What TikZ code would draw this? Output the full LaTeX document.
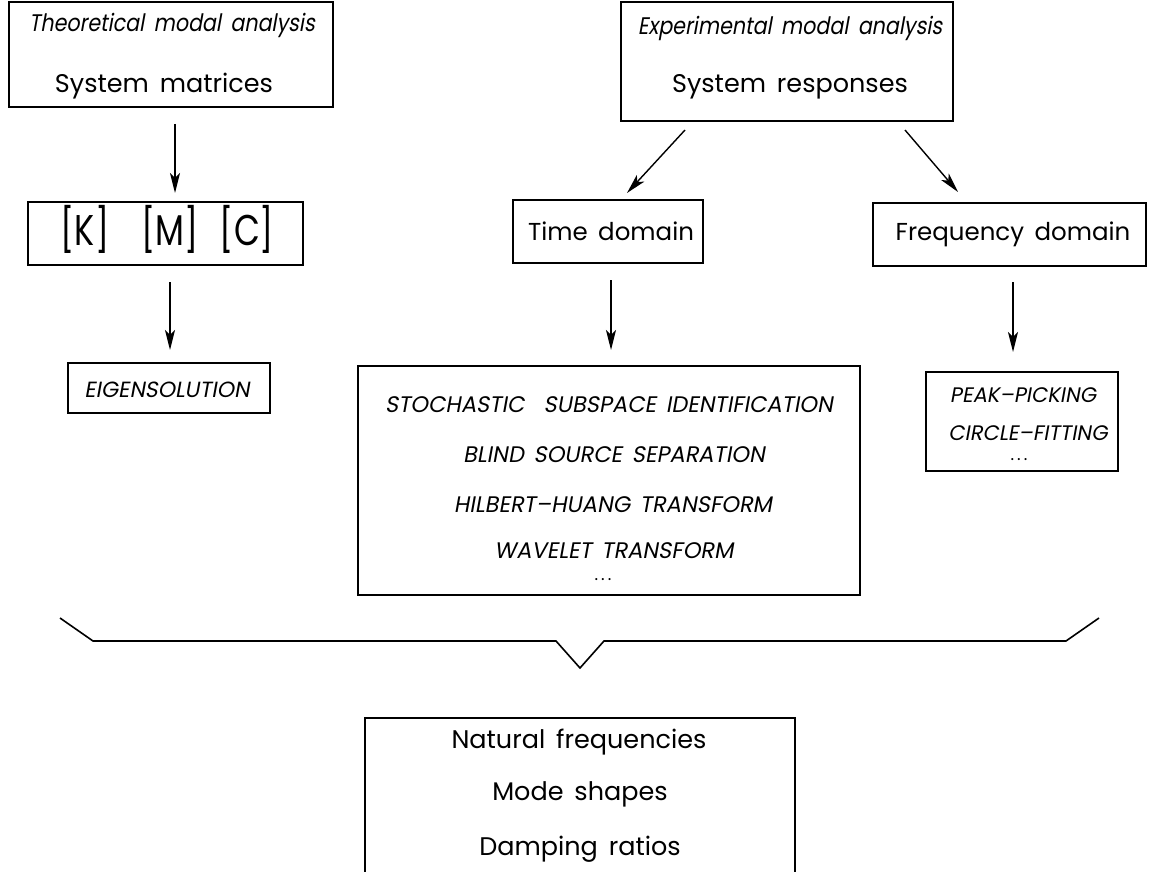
\documentclass[tikz,border=0pt]{standalone}
\usepackage{fontspec}
\setmainfont{Poppins}[WordSpace=1.6]
\newfontfamily\slfont{Poppins}[FakeSlant=0.18,WordSpace=1.6,Ligatures=TeX]
\newfontfamily\slnfont{Poppins}[FakeSlant=0.18,FakeStretch=0.86,WordSpace=1.7]
\newfontfamily\kmcfont{Poppins}[FakeStretch=0.78]
\usetikzlibrary{arrows.meta}
\newcommand{\fs}[1]{\fontsize{#1}{#1}\selectfont}
\newcommand{\dotsx}{.\hspace{3pt}.\hspace{3pt}.}
\tikzset{
  frame/.style={draw, line width=1.6pt, inner sep=0pt, anchor=center},
  lbl/.style={anchor=base, inner sep=0pt},
  arr/.style={line width=1.4pt, -{Stealth[length=20pt,width=10pt,inset=5pt]}},
  brace/.style={line width=1.6pt, line join=miter}
}
\begin{document}
\begin{tikzpicture}[x=1pt,y=-1pt]
\useasboundingbox (0,0) rectangle (1149,872);
\clip (0,0) rectangle (1149,872);
% boxes
\node[frame, minimum width=324, minimum height=105] (theo) at (171,54.5) {};
\node[frame, minimum width=332, minimum height=119] (exp) at (787,61.5) {};
\node[frame, minimum width=275, minimum height=63] (kmc) at (165.5,233.5) {};
\node[frame, minimum width=202, minimum height=50] (eig) at (169,388) {};
\node[frame, minimum width=190, minimum height=63] (time) at (608,231.5) {};
\node[frame, minimum width=273, minimum height=63] (freq) at (1009.5,234.5) {};
\node[frame, minimum width=502, minimum height=229] (meth) at (609,480.5) {};
\node[frame, minimum width=192, minimum height=99] (peak) at (1022,421.5) {};
\node[frame, minimum width=430, minimum height=200] (res) at (580,818) {};
% texts
\node[lbl, font=\slnfont\fs{24}] (theo1) at (172,32) {Theoretical modal analysis};
\node[lbl, font=\fs{25.5}] (theo2) at (164,93) {System matrices};
\node[lbl, font=\slnfont\fs{24}] (exp1) at (790,35) {Experimental modal analysis};
\node[lbl, font=\fs{25.5}] (exp2) at (790,93) {System responses};
\node[lbl, font=\kmcfont\fs{43}] (kmcK) at (85,245) {[K]};
\node[lbl, font=\kmcfont\fs{43}] (kmcM) at (170,245) {[M]};
\node[lbl, font=\kmcfont\fs{43}] (kmcC) at (247,245) {[C]};
\node[lbl, font=\slfont\fs{22}] (eigT) at (167,397) {EIGENSOLUTION};
\node[lbl, font=\fs{24.5}] (timeT) at (611,240) {Time domain};
\node[lbl, font=\fs{24.5}] (freqT) at (1013,240) {Frequency domain};
\node[lbl, font=\slfont\fs{22.5}] (m1) at (609,412) {STOCHASTIC\ \ SUBSPACE IDENTIFICATION};
\node[lbl, font=\slfont\fs{22.5}] (m2) at (614,462) {BLIND SOURCE SEPARATION};
\node[lbl, font=\slfont\fs{22.5}] (m3) at (613,512) {HILBERT–HUANG TRANSFORM};
\node[lbl, font=\slfont\fs{22.5}] (m4) at (614,558) {WAVELET TRANSFORM};
\node[lbl, font=\fs{17}] (m5) at (603,580) {\dotsx};
\node[lbl, font=\slfont\fs{21}] (p1) at (1023,402) {PEAK–PICKING};
\node[lbl, font=\slfont\fs{21}] (p2) at (1028,440) {CIRCLE–FITTING};
\node[lbl, font=\fs{17}] (p3) at (1019,460) {\dotsx};
\node[lbl, font=\fs{25.5}] (r1) at (579,748) {Natural frequencies};
\node[lbl, font=\fs{25.5}] (r2) at (580,800) {Mode shapes};
\node[lbl, font=\fs{25.5}] (r3) at (580,855) {Damping ratios};
% arrow end points
\coordinate (a1s) at (175,124); \coordinate (a1e) at (175,193);
\coordinate (a2s) at (170,282); \coordinate (a2e) at (170,350);
\coordinate (a3s) at (685,130); \coordinate (a3e) at (627,193);
\coordinate (a4s) at (905,130); \coordinate (a4e) at (958,192);
\coordinate (a5s) at (611,280); \coordinate (a5e) at (611,350);
\coordinate (a6s) at (1013,282); \coordinate (a6e) at (1013,352);
\draw[arr] (a1s) -- (a1e);
\draw[arr] (a2s) -- (a2e);
\draw[arr] (a3s) -- (a3e);
\draw[arr] (a4s) -- (a4e);
\draw[arr] (a5s) -- (a5e);
\draw[arr] (a6s) -- (a6e);
% brace
\coordinate (b1) at (60,618); \coordinate (b2) at (93,641);
\coordinate (b3) at (556,641); \coordinate (b4) at (580,668);
\coordinate (b5) at (604,641); \coordinate (b6) at (1066,641);
\coordinate (b7) at (1099,618);
\draw[brace] (b1) -- (b2) -- (b3) -- (b4) -- (b5) -- (b6) -- (b7);
\end{tikzpicture}
\end{document}
